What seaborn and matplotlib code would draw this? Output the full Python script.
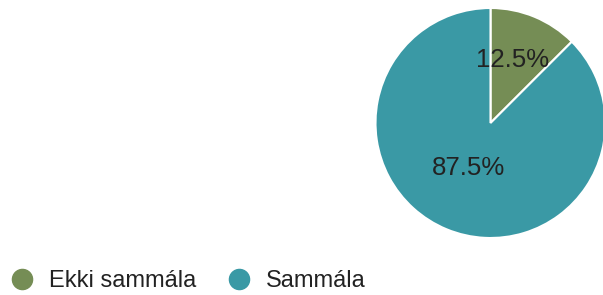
import matplotlib
matplotlib.use("Agg")
import matplotlib.pyplot as plt
from matplotlib.lines import Line2D
import seaborn as sns

# chart data
answers = ["Ekki sammála", "Sammála"]
shares = [12.5, 87.5]
colors = ["#758d55", "#3a99a5"]

# label offsets inside the pie (radius units)
label_offsets = [(0.19, 0.55), (-0.19, -0.39)]

sns.set_theme(style="white")
plt.rcParams["font.family"] = ["Liberation Sans", "DejaVu Sans"]

W, H = 603, 295
fig = plt.figure(figsize=(W / 100, H / 100), dpi=100)

# pie axes: center ~ (490.5, 123) px, radius 115 px
r = 115
cx, cy = 490.5, 123
ax = fig.add_axes([(cx - r) / W, (H - cy - r) / H, 2 * r / W, 2 * r / H])

wedges, texts, autotexts = ax.pie(
    shares,
    colors=colors,
    startangle=90,
    counterclock=False,
    radius=1,
    autopct="%.1f%%",
    wedgeprops={"edgecolor": "white", "linewidth": 1.5},
    textprops={"fontsize": 18.6, "color": "#222222"},
)
for t, (dx, dy) in zip(autotexts, label_offsets):
    t.set_position((dx, dy))
    t.set_ha("center")
    t.set_va("center")

ax.set_xlim(-1, 1)
ax.set_ylim(-1, 1)
ax.set_aspect("equal")
ax.axis("off")

handles = [
    Line2D([], [], marker="o", linestyle="", markersize=14.5,
           markerfacecolor=c, markeredgecolor=c)
    for c in colors
]
fig.legend(
    handles,
    answers,
    loc="center left",
    bbox_to_anchor=(10.5 / W, 14 / H),
    ncol=2,
    frameon=False,
    fontsize=17,
    handlelength=1.0,
    handletextpad=0.63,
    columnspacing=1.33,
    borderpad=0,
    borderaxespad=0,
    labelcolor="#222222",
)

fig.savefig("out.png", dpi=100)
